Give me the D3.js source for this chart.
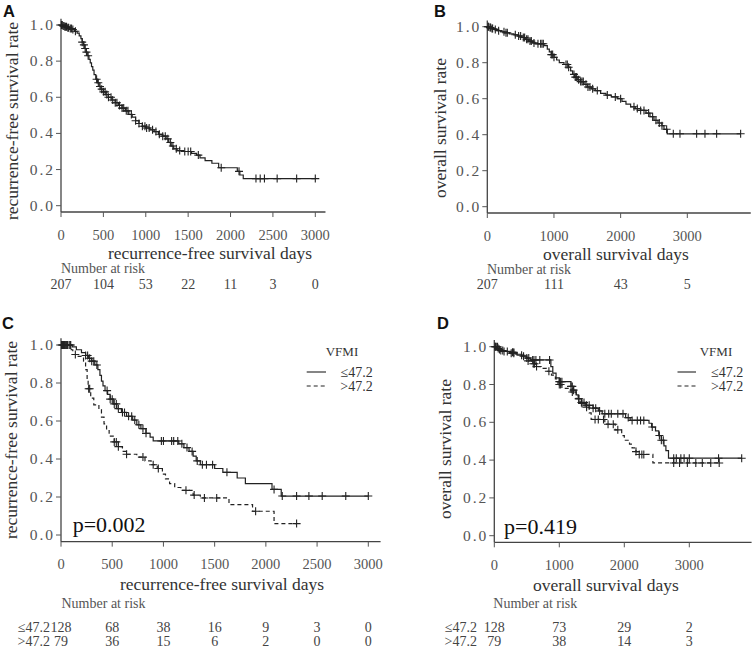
<!DOCTYPE html>
<html><head><meta charset="utf-8">
<script src="https://cdn.jsdelivr.net/npm/d3@7"></script>
<style>body{margin:0;background:#fff} svg{display:block}</style>
</head><body><svg id="c" width="755" height="649"></svg>
<script>
// ---------- data ----------
const rfsTicks = [0, 500, 1000, 1500, 2000, 2500, 3000];
const osTicks = [0, 1000, 2000, 3000];
const yTicks = [0, 0.2, 0.4, 0.6, 0.8, 1.0];
const groupLabels = ["≤47.2", ">47.2"];
const legendTitle = "VFMI";
const pTexts = ["p=0.002", "p=0.419"];

const rfsRiskAll = [207, 104, 53, 22, 11, 3, 0];
const osRiskAll = [207, 111, 43, 5];
const rfsRiskLow = [128, 68, 38, 16, 9, 3, 0];
const rfsRiskHigh = [79, 36, 15, 6, 2, 0, 0];
const osRiskLow = [128, 73, 29, 2];
const osRiskHigh = [79, 38, 14, 3];

// Kaplan-Meier steps: [day, survival after step]
const rfsAll = [[0,1],[20,0.995],[45,0.99],[70,0.985],[100,0.98],[130,0.975],[160,0.965],[190,0.955],[215,0.94],[235,0.925],[250,0.905],[265,0.89],[280,0.87],[295,0.85],[310,0.83],[330,0.81],[345,0.79],[360,0.77],[375,0.75],[390,0.725],[410,0.70],[430,0.68],[450,0.66],[470,0.645],[500,0.63],[530,0.615],[560,0.60],[600,0.585],[640,0.57],[680,0.555],[720,0.54],[760,0.525],[800,0.505],[840,0.49],[880,0.47],[920,0.455],[960,0.44],[1000,0.43],[1050,0.42],[1100,0.41],[1150,0.395],[1200,0.385],[1240,0.37],[1270,0.35],[1300,0.33],[1330,0.315],[1370,0.305],[1450,0.30],[1540,0.29],[1600,0.28],[1640,0.265],[1700,0.25],[1780,0.235],[1860,0.21],[2080,0.19],[2110,0.17],[2150,0.15]];
const rfsAllCens = [5,15,25,35,45,55,65,80,90,110,125,140,170,250,270,285,300,320,420,440,460,480,500,520,540,560,590,610,640,660,690,720,740,770,790,830,880,920,960,990,1010,1040,1080,1120,1160,1200,1230,1260,1290,1320,1360,1400,1460,1500,1530,1620,1890,2100,2300,2350,2400,2550,2780,3000];

const osAll = [[0,1],[30,0.995],[60,0.99],[100,0.985],[150,0.978],[200,0.972],[260,0.966],[330,0.96],[400,0.955],[460,0.948],[520,0.94],[570,0.93],[620,0.92],[680,0.91],[720,0.905],[850,0.895],[900,0.875],[930,0.86],[960,0.845],[1000,0.83],[1040,0.815],[1080,0.80],[1150,0.79],[1220,0.775],[1250,0.755],[1280,0.735],[1310,0.72],[1350,0.705],[1400,0.695],[1450,0.68],[1500,0.665],[1560,0.655],[1620,0.645],[1700,0.63],[1780,0.62],[1860,0.61],[1950,0.60],[2020,0.585],[2080,0.57],[2150,0.555],[2220,0.545],[2300,0.535],[2380,0.52],[2440,0.50],[2500,0.48],[2560,0.465],[2620,0.45],[2650,0.43],[2700,0.405]];
const osAllCens = [10,20,40,50,70,80,120,170,250,280,300,420,470,500,540,560,590,610,640,660,700,760,800,820,840,960,980,1000,1180,1200,1220,1300,1320,1340,1370,1400,1420,1440,1480,1510,1540,1580,1650,1800,1920,2000,2200,2250,2300,2350,2420,2480,2530,2580,2620,2690,2790,2890,3140,3265,3440,3800];

const rfsLow = [[0,1],[110,0.99],[150,0.975],[200,0.96],[240,0.945],[270,0.93],[300,0.915],[330,0.895],[360,0.87],[380,0.84],[395,0.81],[410,0.785],[430,0.76],[455,0.74],[480,0.715],[510,0.69],[545,0.665],[590,0.645],[640,0.625],[700,0.605],[740,0.58],[780,0.56],[830,0.535],[870,0.515],[900,0.495],[1150,0.48],[1200,0.46],[1250,0.44],[1290,0.415],[1320,0.39],[1360,0.37],[1500,0.35],[1580,0.33],[1720,0.30],[1800,0.27],[2060,0.24],[2150,0.205]];
const rfsLowCens = [5,15,25,35,45,55,65,80,95,240,260,280,300,320,350,450,480,500,520,540,560,600,620,660,690,720,760,800,830,980,1000,1080,1100,1140,1180,1230,1280,1330,1380,1420,1480,1620,2080,2160,2300,2420,2550,2780,3000];
const rfsHigh = [[0,1],[100,0.975],[115,0.95],[150,0.94],[220,0.915],[240,0.87],[255,0.82],[265,0.77],[290,0.72],[320,0.685],[370,0.66],[395,0.62],[420,0.585],[445,0.55],[470,0.52],[520,0.49],[560,0.465],[600,0.44],[640,0.425],[740,0.41],[820,0.39],[880,0.37],[940,0.35],[990,0.32],[1020,0.295],[1060,0.27],[1110,0.25],[1170,0.235],[1290,0.21],[1360,0.195],[1640,0.16],[1870,0.125],[2080,0.06]];
const rfsHighCens = [30,60,90,140,270,280,520,540,560,640,800,900,950,1220,1300,1400,1520,1900,2300];

const osLow = [[0,1],[40,0.99],[90,0.98],[160,0.975],[250,0.97],[330,0.96],[420,0.95],[500,0.94],[560,0.93],[870,0.895],[900,0.86],[950,0.835],[1000,0.815],[1180,0.79],[1220,0.77],[1260,0.745],[1290,0.725],[1340,0.705],[1420,0.69],[1520,0.675],[1600,0.66],[1660,0.645],[2020,0.625],[2090,0.61],[2380,0.595],[2420,0.575],[2480,0.555],[2530,0.53],[2570,0.505],[2610,0.475],[2640,0.45],[2680,0.41]];
const osLowCens = [10,30,60,100,130,200,280,300,450,500,530,590,610,640,700,850,1000,1020,1040,1180,1200,1220,1300,1340,1380,1420,1460,1520,1560,1620,1700,1760,1800,1900,1980,2060,2120,2200,2250,2300,2430,2540,2570,2600,2760,2800,2870,2920,3000,3450,3806];
const osHigh = [[0,1],[60,0.985],[120,0.975],[220,0.965],[350,0.955],[450,0.94],[520,0.925],[580,0.91],[640,0.895],[720,0.885],[800,0.87],[880,0.85],[940,0.83],[980,0.80],[1040,0.78],[1180,0.76],[1260,0.725],[1320,0.70],[1400,0.68],[1460,0.65],[1490,0.615],[1700,0.59],[1860,0.56],[1960,0.53],[2000,0.505],[2080,0.485],[2120,0.465],[2180,0.445],[2220,0.43],[2440,0.385]];
const osHighCens = [20,50,80,150,260,300,420,520,600,620,650,840,1000,1020,1200,1300,1350,1420,1550,1600,1680,1750,1830,1900,2180,2230,2270,2300,2760,2850,2970,3100,3200,3330,3460];

// ---------- layout (pixels) ----------
const serif = "'Liberation Serif','Times New Roman',serif";
const panels = [
  {lab:"A", lx:3, ly:17, x0:61, x1:315.3, y0:205.7, y1:25, ticks:rfsTicks,
   ylab:"recurrence-free survival rate", ylx:18, yly:121,
   xlab:"recurrence-free survival days", xlx:210, xly:258.5, narX:61, narY:273,
   curves:[{d:rfsAll, c:rfsAllCens, dash:null}], risk:[rfsRiskAll], riskY:[288.5], riskLabX:null},
  {lab:"B", lx:434, ly:17, x0:487.3, x1:687.3, y0:206.7, y1:26.7, ticks:osTicks,
   ylab:"overall survival rate", ylx:446, yly:128,
   xlab:"overall survival days", xlx:616, xly:259.5, narX:487, narY:273.5,
   curves:[{d:osAll, c:osAllCens, dash:null}], risk:[osRiskAll], riskY:[289], riskLabX:null},
  {lab:"C", lx:2, ly:328.5, x0:61, x1:368.3, y0:535, y1:345, ticks:rfsTicks,
   ylab:"recurrence-free survival rate", ylx:16.5, yly:440,
   xlab:"recurrence-free survival days", xlx:222, xly:590, narX:61.5, narY:608,
   curves:[{d:rfsLow, c:rfsLowCens, dash:null},{d:rfsHigh, c:rfsHighCens, dash:"4,3"}],
   risk:[rfsRiskLow, rfsRiskHigh], riskY:[631.5, 645.5], riskLabX:50,
   p:pTexts[0], px:72.7, py:531.7,
   leg:{tx:342, ty:356, lx0:306.7, lx1:326, ly:[372, 386], textR:372.7}},
  {lab:"D", lx:437, ly:328.5, x0:494.3, x1:689.3, y0:535.7, y1:346.7, ticks:osTicks,
   ylab:"overall survival rate", ylx:451, yly:449,
   xlab:"overall survival days", xlx:606, xly:591, narX:493.3, narY:608,
   curves:[{d:osLow, c:osLowCens, dash:null},{d:osHigh, c:osHighCens, dash:"4,3"}],
   risk:[osRiskLow, osRiskHigh], riskY:[632, 646], riskLabX:477,
   p:pTexts[1], px:504, py:534,
   leg:{tx:716, ty:356, lx0:677.5, lx1:696, ly:[372, 386], textR:743.3}}
];

const svg = d3.select("#c");
svg.append("rect").attr("width",755).attr("height",649).attr("fill","#fff");

function survAt(data, t) {
  const i = d3.bisectRight(data.map(d => d[0]), t) - 1;
  return data[Math.max(0, i)][1];
}

panels.forEach(P => {
  const g = svg.append("g");
  const x = d3.scaleLinear().domain([0, 3000]).range([P.x0, P.x1]);
  const y = d3.scaleLinear().domain([0, 1]).range([P.y0, P.y1]);
  const tmax = d3.max(P.curves, c => Math.max(d3.max(c.c), d3.max(c.d, d => d[0])));
  const axY = y(-0.035), axTop = y(1.035);

  // panel letter
  g.append("text").attr("x", P.lx).attr("y", P.ly).text(P.lab)
    .attr("font-family","'Liberation Sans',Arial,sans-serif").attr("font-weight","bold")
    .attr("font-size",16.5).attr("fill","#111");

  // axes lines
  g.append("line").attr("x1", x(0)).attr("x2", x(0)).attr("y1", axTop).attr("y2", axY)
    .attr("stroke","#444").attr("stroke-width",1.3);
  g.append("line").attr("x1", x(0)).attr("x2", x(tmax*1.04)).attr("y1", axY).attr("y2", axY)
    .attr("stroke","#444").attr("stroke-width",1.3);

  // y ticks
  yTicks.forEach(v => {
    g.append("line").attr("x1", x(0)-5).attr("x2", x(0)).attr("y1", y(v)).attr("y2", y(v))
      .attr("stroke","#555").attr("stroke-width",1);
    g.append("text").attr("x", x(0)-8+2).attr("y", y(v)+5).attr("text-anchor","end")
      .attr("font-family", serif).attr("font-size",15.5).attr("letter-spacing","2px").attr("fill","#555")
      .text(d3.format(".1f")(v));
  });
  // x ticks
  P.ticks.forEach(t => {
    g.append("line").attr("x1", x(t)).attr("x2", x(t)).attr("y1", axY).attr("y2", axY+5)
      .attr("stroke","#555").attr("stroke-width",1);
    g.append("text").attr("x", x(t)).attr("y", axY+27.5).attr("text-anchor","middle")
      .attr("font-family", serif).attr("font-size",14.5).attr("fill","#555").text(t);
  });

  // titles
  g.append("text").attr("transform", `translate(${P.ylx},${P.yly}) rotate(-90)`)
    .attr("text-anchor","middle").attr("font-family", serif).attr("font-size",17.5).attr("fill","#333")
    .text(P.ylab);
  g.append("text").attr("x", P.xlx).attr("y", P.xly).attr("text-anchor","middle")
    .attr("font-family", serif).attr("font-size",17.5).attr("fill","#333").text(P.xlab);

  // curves
  const line = d3.line().x(d => x(d[0])).y(d => y(d[1])).curve(d3.curveStepAfter);
  P.curves.forEach(C => {
    const end = Math.max(d3.max(C.c), C.d[C.d.length-1][0]);
    const pts = C.d.concat([[end, C.d[C.d.length-1][1]]]);
    g.append("path").attr("d", line(pts)).attr("fill","none").attr("stroke","#222")
      .attr("stroke-width",1.2).attr("stroke-dasharray", C.dash);
    C.c.forEach(t => {
      const cx = x(t), cy = y(survAt(C.d, t));
      g.append("path").attr("d", `M${cx-4},${cy}H${cx+4}M${cx},${cy-4}V${cy+4}`)
        .attr("stroke","#222").attr("stroke-width",1.1).attr("fill","none");
    });
  });

  // number at risk
  g.append("text").attr("x", P.narX).attr("y", P.narY).attr("font-family", serif)
    .attr("font-size",14).attr("fill","#555").text("Number at risk");
  P.risk.forEach((row, ri) => {
    row.forEach((n, i) => {
      g.append("text").attr("x", x(P.ticks[i])).attr("y", P.riskY[ri]).attr("text-anchor","middle")
        .attr("font-family", serif).attr("font-size",14).attr("fill","#444").text(n);
    });
    if (P.riskLabX !== null) {
      g.append("text").attr("x", P.riskLabX).attr("y", P.riskY[ri]).attr("text-anchor","end")
        .attr("font-family", serif).attr("font-size",14).attr("fill","#444").text(groupLabels[ri]);
    }
  });

  // p value + legend
  if (P.p) {
    g.append("text").attr("x", P.px).attr("y", P.py).attr("font-family", serif)
      .attr("font-size",22).attr("fill","#111").text(P.p);
    const L = P.leg;
    g.append("text").attr("x", L.tx).attr("y", L.ty).attr("text-anchor","middle")
      .attr("font-family", serif).attr("font-size",13).attr("fill","#333").text(legendTitle);
    P.curves.forEach((C, i) => {
      g.append("line").attr("x1", L.lx0).attr("x2", L.lx1).attr("y1", L.ly[i]).attr("y2", L.ly[i])
        .attr("stroke","#222").attr("stroke-width",1.1).attr("stroke-dasharray", C.dash);
      g.append("text").attr("x", L.textR).attr("y", L.ly[i]+4.5).attr("text-anchor","end")
        .attr("font-family", serif).attr("font-size",14).attr("fill","#333").text(groupLabels[i]);
    });
  }
});
</script></body></html>
